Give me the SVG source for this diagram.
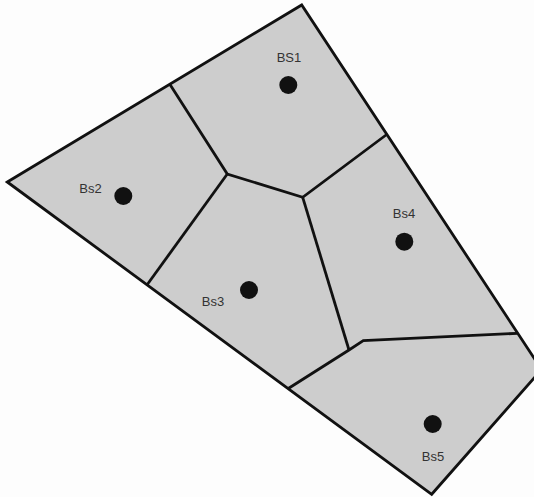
<svg xmlns="http://www.w3.org/2000/svg" width="534" height="497" viewBox="0 0 534 497">
<style>
.cell{fill:#cdcdcd;stroke:none}
.edge{fill:none;stroke:#111;stroke-width:2.8;stroke-linejoin:miter}
.bs{fill:#111}
.lbl{font-family:"Liberation Sans",Arial,sans-serif;font-size:13px;fill:#333;text-anchor:middle}
</style>
<rect width="534" height="497" fill="#fdfdfd"/>
<g id="cells">
<polygon id="cell-bs1" class="cell" points="170,84.5 301.7,5 386.7,134.5 302.7,197.3 227.3,174"/>
<polygon id="cell-bs2" class="cell" points="7.3,182 170,84.5 227.3,174 147.3,284.5"/>
<polygon id="cell-bs3" class="cell" points="147.3,284.5 227.3,174 302.7,197.3 349,350 288.3,388.5"/>
<polygon id="cell-bs4" class="cell" points="302.7,197.3 386.7,134.5 517.3,333.3 363.3,340.7 349,350"/>
<polygon id="cell-bs5" class="cell" points="288.3,388.5 349,350 363.3,340.7 517.3,333.3 541.6,369.6 431.7,494.3"/>
</g>
<g id="connectors">
<polygon class="edge" points="7.3,182 301.7,5 541.6,369.6 431.7,494.3"/>
<polyline class="edge" points="170,84.5 227.3,174 302.7,197.3 386.7,134.5"/>
<polyline class="edge" points="227.3,174 147.3,284.5"/>
<polyline class="edge" points="302.7,197.3 349,350"/>
<polyline class="edge" points="288.3,388.5 349,350 363.3,340.7 517.3,333.3"/>
</g>
<g id="BS1"><circle class="bs" cx="288.3" cy="85" r="9"/><text class="lbl" x="289" y="62">BS1</text></g>
<g id="Bs2"><circle class="bs" cx="123.3" cy="196" r="9"/><text class="lbl" x="90.5" y="193">Bs2</text></g>
<g id="Bs3"><circle class="bs" cx="249" cy="290" r="9"/><text class="lbl" x="213" y="306">Bs3</text></g>
<g id="Bs4"><circle class="bs" cx="404.3" cy="241.7" r="9"/><text class="lbl" x="404" y="218">Bs4</text></g>
<g id="Bs5"><circle class="bs" cx="432.7" cy="424" r="9"/><text class="lbl" x="433" y="461">Bs5</text></g>
</svg>
